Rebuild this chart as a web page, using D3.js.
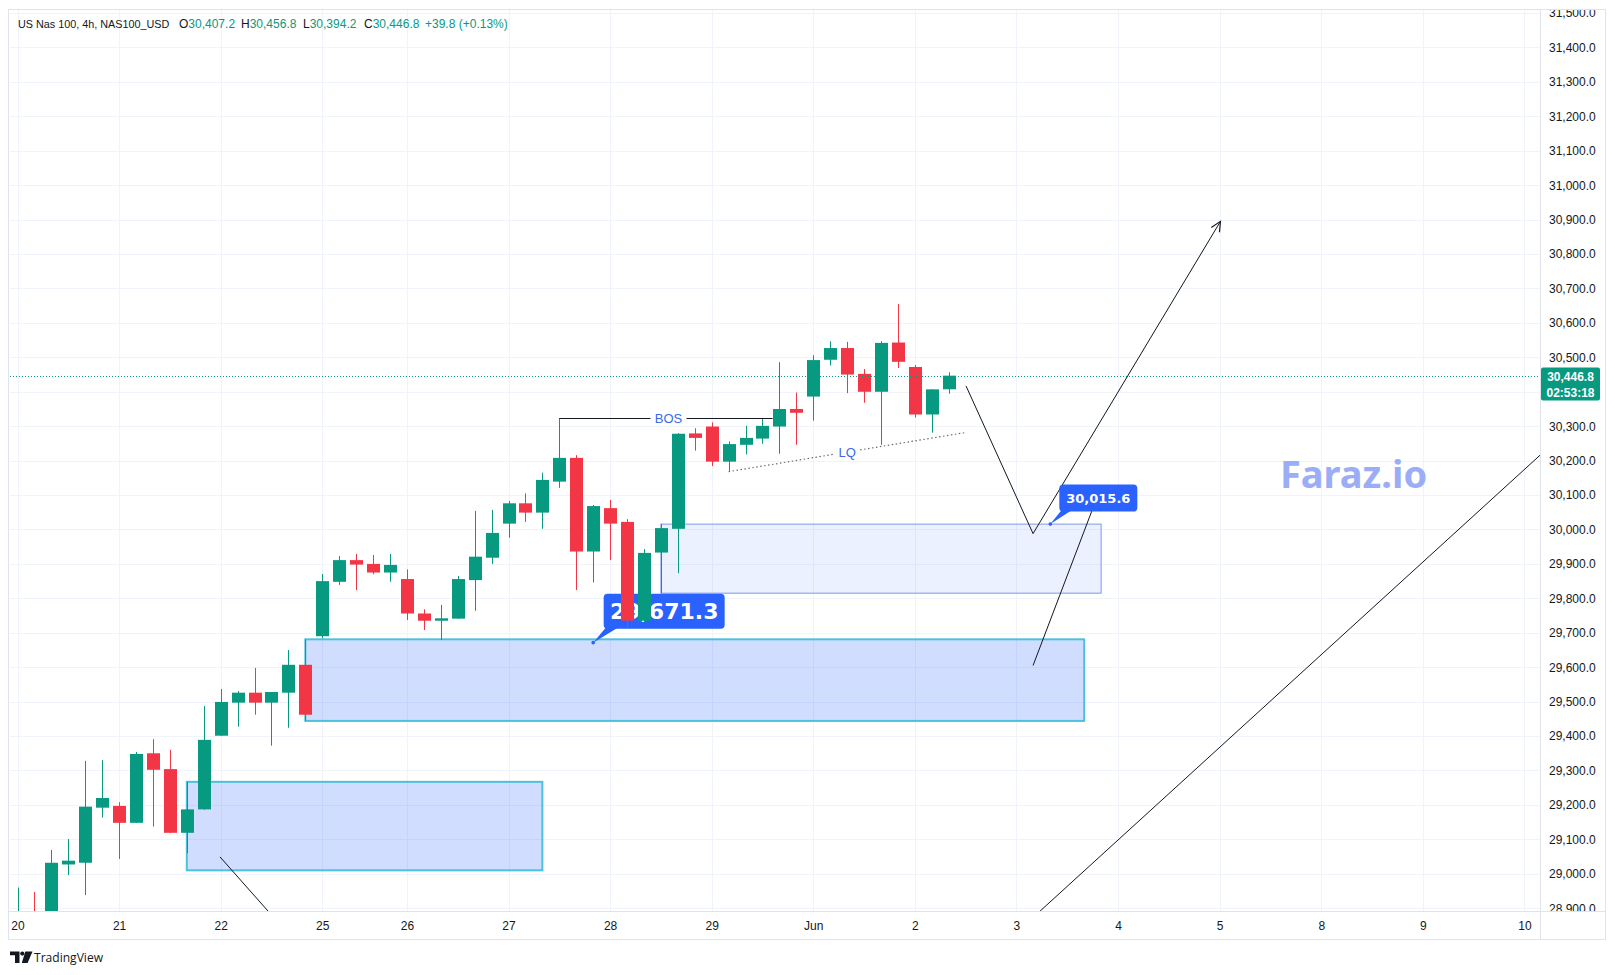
<!DOCTYPE html>
<html>
<head>
<meta charset="utf-8">
<script src="https://cdn.jsdelivr.net/npm/d3@7"></script>
<style>
  html,body{margin:0;padding:0;background:#ffffff;}
  svg{display:block;}
</style>
</head>
<body>
<svg id="chart" width="1615" height="975"></svg>
<script>
// ---------------- DATA ----------------
const symbolTitle = "US Nas 100, 4h, NAS100_USD";
const countdown = "02:53:18";
const watermark = "Faraz.io";

// 4h candles, index 0 = first visible bar
const opens  = [28820,28885,28860,29027,29032,29192,29197,29148,29350,29304,29119,29187,29401,29497,29526,29497,29526,29607,29690,29848,29911,29900,29875,29856,29756,29735,29741,29853,29918,30017,30076,30049,30139,30208,29936,30062,30022,29735,29933,30002,30279,30299,30197,30246,30264,30299,30350,30386,30493,30527,30452,30400,30543,30472,30334,30407.2];
const highs  = [28960,28947,29069,29101,29328,29330,29208,29354,29391,29360,29267,29487,29537,29531,29598,29528,29650,29681,29871,29923,29929,29926,29929,29884,29768,29781,29865,30054,30057,30083,30105,30165,30323,30216,30071,30086,30030,29943,30015.6,30280,30294,30311,30256,30301,30323,30486,30398,30506,30547,30545,30466,30547,30655,30478,30407,30456.8];
const lows   = [28780,28800,28850,28996,28938,29163,29043,29148,29137,29118,29060,29186,29401,29427,29462,29372,29424,29444,29684,29839,29824,29870,29848,29737,29708,29679,29741,29764,29900,29976,30022,30002,30121,29824,29846,29911,29715,29729,29815,29873,30229,30184,30168,30218,30249,30220,30246,30316,30476,30396,30368,30246,30469,30325,30281,30394.2];
const closes = [28880,28840,29032,29038,29195,29220,29148,29348,29302,29119,29187,29389,29499,29526,29497,29528,29607,29462,29850,29911,29898,29875,29897,29756,29735,29742,29856,29921,29990,30076,30049,30144,30208,29936,30068,30017,29735,29932,30004,30278,30266,30197,30248,30266,30301,30350,30339,30492,30527,30450,30400,30542,30487,30334,30407.0,30446.8];

// time axis: bar index -> label
const xTickIndex  = [0,6,12,18,23,29,35,41,47,53,59,65,71,77,83,89];
const xTickLabels = ["20","21","22","25","26","27","28","29","Jun","2","3","4","5","8","9","10"];
// price axis ticks
const yTickValues = d3.range(28900, 31500.1, 100);

// drawings (bar index, price)
const zoneStarts = [10, 17, 38];
const zoneEnds   = [31, 63, 64];
const zoneTops   = [29267, 29681, 30015.6];
const zoneBots   = [29010, 29444, 29815];
const zoneKinds  = ["strong","strong","light"];

const segLines = [
  [[11.96, 29049],[16.0, 28825]],
  [[59.2, 28838],[91.0, 30264]],
  [[59.98, 29605],[63.5, 30060]]
];
const projection = [[56.02, 30417],[59.98, 29988],[71.05, 30895]];
const bosLevel = {from:32, to:44.6, price:30323, labelAt:38.45, text:"BOS"};
const lqLine = {from:[42, 30168], to:[55.96, 30281.4], labelAt:49, text:"LQ"};
const calloutAnchors = [[34, 29671.3],[61, 30015.6]];
const calloutValues = [29671.3, 30015.6];

// ---------------- LAYOUT ----------------
const svg = d3.select("#chart");
const plot = {l:10, t:10, r:1540, b:911};
const UP = "#089981", DOWN = "#f23645";
const TXT = "#131722";
const AXFONT = "'Liberation Sans', Arial, sans-serif";

const x = d3.scaleLinear().domain([0, 89]).range([17.5, 1524.4]);
const y = d3.scaleLinear().domain([28900, 31500]).range([908.2, 13.05]);

svg.append("rect").attr("width",1615).attr("height",975).attr("fill","#fff");

const defs = svg.append("defs");
defs.append("clipPath").attr("id","plotClip").append("rect")
  .attr("x",plot.l).attr("y",plot.t).attr("width",plot.r-plot.l).attr("height",plot.b-plot.t);
defs.append("clipPath").attr("id","yAxClip").append("rect")
  .attr("x",plot.r+1).attr("y",plot.t).attr("width",70).attr("height",plot.b-plot.t);

// frame
const frame = svg.append("g").attr("stroke","#e0e3eb").attr("fill","none");
frame.append("rect").attr("x",8.5).attr("y",9.5).attr("width",1597).attr("height",930);
frame.append("line").attr("x1",plot.r+0.5).attr("x2",plot.r+0.5).attr("y1",9.5).attr("y2",939.5);
frame.append("line").attr("x1",8.5).attr("x2",1605.5).attr("y1",plot.b+0.5).attr("y2",plot.b+0.5);

const g = svg.append("g").attr("clip-path","url(#plotClip)");

// grid
g.append("g").selectAll("line").data(yTickValues).join("line")
  .attr("x1",plot.l).attr("x2",plot.r)
  .attr("y1",d=>Math.round(y(d))+0.5).attr("y2",d=>Math.round(y(d))+0.5)
  .attr("stroke","#f0f3fa").attr("stroke-width",1);
g.append("g").selectAll("line").data(xTickIndex).join("line")
  .attr("y1",plot.t).attr("y2",plot.b)
  .attr("x1",d=>Math.round(x(d))+0.5).attr("x2",d=>Math.round(x(d))+0.5)
  .attr("stroke","#f0f3fa").attr("stroke-width",1);

// watermark text
g.append("text").attr("x",1280).attr("y",488)
  .attr("font-family","'Noto Sans', 'DejaVu Sans', sans-serif").attr("font-weight","bold")
  .attr("font-size",38).attr("fill","#9badf6").text(watermark);

// zones
zoneStarts.forEach((s,k)=>{
  const strong = zoneKinds[k]==="strong";
  g.append("rect")
    .attr("x",x(s)).attr("y",y(zoneTops[k]))
    .attr("width",x(zoneEnds[k])-x(s)).attr("height",y(zoneBots[k])-y(zoneTops[k]))
    .attr("fill", strong ? "rgba(41,98,255,0.22)" : "rgba(41,98,255,0.09)")
    .attr("stroke", strong ? "#4cc1db" : "#7c9ae6")
    .attr("stroke-width", strong ? 2 : 1);
});

const line = d3.line().x(d=>x(d[0])).y(d=>y(d[1]));

// plain lines
segLines.forEach(pts=>{
  g.append("path").attr("d",line(pts)).attr("fill","none")
    .attr("stroke","#131722").attr("stroke-width",1);
});
// projection path with arrow head
g.append("path").attr("d",line(projection)).attr("fill","none")
  .attr("stroke","#131722").attr("stroke-width",1);
{
  const a = projection[projection.length-2], b = projection[projection.length-1];
  const ax=x(a[0]), ay=y(a[1]), bx=x(b[0]), by=y(b[1]);
  const ang = Math.atan2(by-ay, bx-ax);
  const L=11, spread=Math.PI/7;
  const p1=[bx-L*Math.cos(ang-spread), by-L*Math.sin(ang-spread)];
  const p2=[bx-L*Math.cos(ang+spread), by-L*Math.sin(ang+spread)];
  g.append("path").attr("d",`M${p1[0]},${p1[1]}L${bx},${by}L${p2[0]},${p2[1]}`)
    .attr("fill","none").attr("stroke","#131722").attr("stroke-width",1.2);
}

// callouts
function callout(anchor, value, opts){
  const ax=x(anchor[0]), ay=y(anchor[1]);
  const bl = ax+opts.dx, bb = ay-opts.dy;
  const grp = g.append("g");
  grp.append("path")
    .attr("d",`M${ax},${ay}L${bl+2},${bb-1}L${bl+opts.tail},${bb-1}Z`)
    .attr("fill","#2962ff");
  grp.append("rect").attr("x",bl).attr("y",bb-opts.h).attr("width",opts.w).attr("height",opts.h)
    .attr("rx",4).attr("fill","#2962ff");
  grp.append("text").attr("x",bl+opts.w/2).attr("y",bb-opts.h/2)
    .attr("dy","0.36em").attr("text-anchor","middle")
    .attr("font-family","'DejaVu Sans', sans-serif").attr("font-weight","bold")
    .attr("font-size",opts.fs).attr("fill","#fff")
    .text(d3.format(",.1f")(value));
  grp.append("circle").attr("cx",ax).attr("cy",ay).attr("r",1.8).attr("fill","#2962ff");
}
callout(calloutAnchors[0], calloutValues[0], {dx:10.5, dy:14, w:121, h:35, tail:14, fs:22});

// candles
const idx = d3.range(closes.length);
const cg = g.append("g");
cg.selectAll("line").data(idx).join("line")
  .attr("x1",i=>Math.round(x(i))+0.5).attr("x2",i=>Math.round(x(i))+0.5)
  .attr("y1",i=>y(highs[i])).attr("y2",i=>y(lows[i]))
  .attr("stroke",i=>closes[i]>=opens[i]?UP:DOWN).attr("stroke-width",1);
cg.selectAll("rect").data(idx).join("rect")
  .attr("x",i=>Math.round(x(i))-6).attr("width",13)
  .attr("y",i=>y(Math.max(opens[i],closes[i])))
  .attr("height",i=>Math.max(1,Math.abs(y(opens[i])-y(closes[i]))))
  .attr("fill",i=>closes[i]>=opens[i]?UP:DOWN);

callout(calloutAnchors[1], calloutValues[1], {dx:9, dy:12.5, w:78, h:27, tail:12, fs:13});

// BOS
{
  const yy = Math.round(y(bosLevel.price))+0.5;
  const cx = x(bosLevel.labelAt), gap = 18;
  g.append("line").attr("x1",x(bosLevel.from)).attr("x2",cx-gap).attr("y1",yy).attr("y2",yy)
    .attr("stroke","#131722").attr("stroke-width",1);
  g.append("line").attr("x1",cx+gap).attr("x2",x(bosLevel.to)).attr("y1",yy).attr("y2",yy)
    .attr("stroke","#131722").attr("stroke-width",1);
  g.append("text").attr("x",cx).attr("y",yy).attr("dy","0.36em").attr("text-anchor","middle")
    .attr("font-family",AXFONT).attr("font-size",13).attr("fill","#3a6ae8").text(bosLevel.text);
}
// LQ dotted
{
  const x0=x(lqLine.from[0]), y0=y(lqLine.from[1]), x1=x(lqLine.to[0]), y1=y(lqLine.to[1]);
  const t = (lqLine.labelAt-lqLine.from[0])/(lqLine.to[0]-lqLine.from[0]);
  const cx = x0+(x1-x0)*t, cy = y0+(y1-y0)*t;
  const gx = 13, gy = gx*(y1-y0)/(x1-x0);
  const st = {stroke:"#6a6d78", "stroke-width":1.2, "stroke-dasharray":"1.5,2.5"};
  [[x0,y0,cx-gx,cy-gy],[cx+gx,cy+gy,x1,y1]].forEach(s=>{
    const l = g.append("line").attr("x1",s[0]).attr("y1",s[1]).attr("x2",s[2]).attr("y2",s[3]);
    Object.entries(st).forEach(([k,v])=>l.attr(k,v));
  });
  g.append("text").attr("x",cx).attr("y",cy).attr("dy","0.36em").attr("text-anchor","middle")
    .attr("font-family",AXFONT).attr("font-size",13).attr("fill","#3a6ae8").text(lqLine.text);
}

// last price dotted line
const last = closes[closes.length-1], prev = closes[closes.length-2];
const py = Math.round(y(last))+0.5;
g.append("line").attr("x1",plot.l).attr("x2",plot.r).attr("y1",py).attr("y2",py)
  .attr("stroke",UP).attr("stroke-width",1).attr("stroke-dasharray","1,2");

// header
{
  const fmt = d3.format(",.1f");
  const o=opens[opens.length-1], h=highs[highs.length-1], l=lows[lows.length-1];
  const ch = last-prev, pct = ch/prev*100;
  const hg = svg.append("g").attr("font-family",AXFONT).attr("fill",TXT);
  hg.append("text").attr("x",18).attr("y",28).attr("font-size",10.8).text(symbolTitle);
  const parts = [["O",o,179],["H",h,241],["L",l,303],["C",last,364]];
  parts.forEach(p=>{
    const t = hg.append("text").attr("x",p[2]).attr("y",28).attr("font-size",12);
    t.append("tspan").text(p[0]);
    t.append("tspan").attr("fill",UP).text(fmt(p[1]));
  });
  hg.append("text").attr("x",425).attr("y",28).attr("font-size",12).attr("fill",UP)
    .text(`${d3.format("+.1f")(ch)} (${d3.format("+.2f")(pct)}%)`);
}

// y axis
const yAx = svg.append("g").attr("clip-path","url(#yAxClip)")
  .append("g").attr("transform","translate(1549,0)")
  .call(d3.axisRight(y).tickValues(yTickValues).tickFormat(d3.format(",.1f")).tickSize(0).tickPadding(0));
yAx.select(".domain").remove();
yAx.selectAll("text").attr("font-family",AXFONT).attr("font-size",12).attr("fill",TXT).attr("text-anchor","start");

// price label
{
  const bx=1541, bw=59, top=py-9;
  svg.append("rect").attr("x",bx).attr("y",top).attr("width",bw).attr("height",33).attr("rx",2).attr("fill",UP);
  svg.append("text").attr("x",bx+bw/2).attr("y",py).attr("dy","0.36em").attr("text-anchor","middle")
    .attr("font-family",AXFONT).attr("font-weight","bold").attr("font-size",12).attr("fill","#fff")
    .text(d3.format(",.1f")(last));
  svg.append("text").attr("x",bx+bw/2).attr("y",py+16).attr("dy","0.36em").attr("text-anchor","middle")
    .attr("font-family",AXFONT).attr("font-weight","bold").attr("font-size",12).attr("fill","#fff")
    .text(countdown);
}

// x axis
const xAx = svg.append("g").attr("transform","translate(0,926)")
  .call(d3.axisBottom(x).tickValues(xTickIndex).tickFormat((d,i)=>xTickLabels[i]).tickSize(0).tickPadding(0));
xAx.select(".domain").remove();
xAx.selectAll("text").attr("y",0).attr("dy","0.36em").attr("font-family",AXFONT).attr("font-size",12).attr("fill",TXT);

// TradingView logo
{
  const lg = svg.append("g").attr("fill","#131722");
  lg.append("path").attr("d","M10,951.5H19.5V963H15V955.2H10Z");
  lg.append("circle").attr("cx",22.3).attr("cy",953.6).attr("r",2.1);
  lg.append("path").attr("d","M25.3,951.5H32.5L27.6,963H21.8Z");
  svg.append("text").attr("x",34).attr("y",957).attr("dy","0.36em")
    .attr("textLength",69).attr("lengthAdjust","spacingAndGlyphs")
    .attr("font-family","'Open Sans', sans-serif").attr("font-size",13.5).attr("fill","#131722").text("TradingView");
}
</script>
</body>
</html>
